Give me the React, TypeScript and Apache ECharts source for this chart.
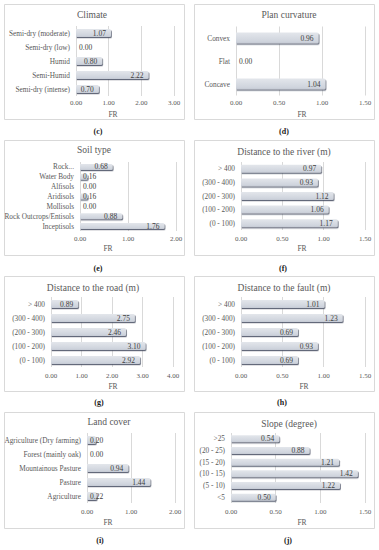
import React, { useEffect, useRef } from "react";
import * as echarts from "echarts";

// ---- data ----
const climateCats = ["Semi-dry (moderate)", "Semi-dry (low)", "Humid", "Semi-Humid", "Semi-dry (intense)"];
const climateVals = [1.07, 0.0, 0.8, 2.22, 0.7];
const planCats = ["Convex", "Flat", "Concave"];
const planVals = [0.96, 0.0, 1.04];
const soilCats = ["Rock...", "Water Body", "Alfisols", "Aridisols", "Mollisols", "Rock Outcrops/Entisols", "Inceptisols"];
const soilVals = [0.68, 0.16, 0.0, 0.16, 0.0, 0.88, 1.76];
const distCats = ["> 400", "(300 - 400)", "(200 - 300)", "(100 - 200)", "(0 - 100)"];
const riverVals = [0.97, 0.93, 1.12, 1.06, 1.17];
const roadVals = [0.89, 2.75, 2.46, 3.1, 2.92];
const faultVals = [1.01, 1.23, 0.69, 0.93, 0.69];
const landCats = ["Agriculture (Dry farming)", "Forest (mainly oak)", "Mountainous Pasture", "Pasture", "Agriculture"];
const landVals = [0.2, 0.0, 0.94, 1.44, 0.22];
const slopeCats = [">25", "(20 - 25)", "(15 - 20)", "(10 - 15)", "(5 - 10)", "<5"];
const slopeVals = [0.54, 0.88, 1.21, 1.42, 1.22, 0.5];

const titles = ["Climate", "Plan curvature", "Soil type", "Distance to the river (m)", "Distance to the road (m)", "Distance to the fault (m)", "Land cover", "Slope (degree)"];
const panelLetters = ["(c)", "(d)", "(e)", "(f)", "(g)", "(h)", "(i)", "(j)"];
const axisMax = [3, 1.5, 2, 1.5, 4, 1.5, 2, 1.5];
const axisInterval = [1, 0.5, 1, 0.5, 1, 0.5, 1, 0.5];
const axisName = "FR";

const panelCats = [climateCats, planCats, soilCats, distCats, distCats, distCats, landCats, slopeCats];
const panelVals = [climateVals, planVals, soilVals, riverVals, roadVals, faultVals, landVals, slopeVals];

// ---- layout ----
const layout = [
  { left: 76, width: 98, top: 26, height: 70, tx: 92, ty: 15, bw: 8, ly: 103, nx: 113, ny: 114 },
  { left: 236, width: 129, top: 26.5, height: 69, tx: 289, ty: 15, bw: 11, ly: 103, nx: 302, ny: 114 },
  { left: 80, width: 96, top: 162, height: 69, tx: 94, ty: 150, bw: 6, ly: 239, nx: 108, ny: 248 },
  { left: 241, width: 124, top: 162, height: 68, tx: 284, ty: 152, bw: 8, ly: 239, nx: 302, ny: 248 },
  { left: 51, width: 122, top: 297, height: 70, tx: 93, ty: 288, bw: 8, ly: 376, nx: 113, ny: 386 },
  { left: 241, width: 124, top: 297, height: 70, tx: 284, ty: 288, bw: 8, ly: 376, nx: 304, ny: 386 },
  { left: 87, width: 88, top: 433, height: 70, tx: 109, ty: 422, bw: 8, ly: 512, nx: 108, ny: 522 },
  { left: 231, width: 134, top: 433, height: 70, tx: 289, ty: 424, bw: 7, ly: 512, nx: 302, ny: 522 },
];
const boxes = [
  { x: 4.5, y: 4.5, w: 180, h: 115 },
  { x: 194.5, y: 4.5, w: 180, h: 115 },
  { x: 4.5, y: 140.5, w: 180, h: 115 },
  { x: 194.5, y: 140.5, w: 180, h: 115 },
  { x: 4.5, y: 276.5, w: 180, h: 115 },
  { x: 194.5, y: 276.5, w: 180, h: 115 },
  { x: 4.5, y: 412.5, w: 180, h: 116 },
  { x: 194.5, y: 412.5, w: 180, h: 116 },
];
const letterPos = [
  { x: 98, y: 131 }, { x: 284, y: 131 },
  { x: 98, y: 268 }, { x: 283, y: 268 },
  { x: 99, y: 402 }, { x: 282, y: 402 },
  { x: 100, y: 540 }, { x: 288, y: 540 },
];

const FONT = "Liberation Serif";

export default function App() {
  const ref = useRef<HTMLDivElement>(null);
  useEffect(() => {
    if (!ref.current) return;
    const chart = echarts.init(ref.current, undefined, { renderer: "svg" });
    const grid: any[] = [];
    const xAxis: any[] = [];
    const yAxis: any[] = [];
    const series: any[] = [];
    const graphic: any[] = [];

    boxes.forEach((b) => {
      graphic.push({
        type: "rect",
        z: -10,
        shape: { x: b.x, y: b.y, width: b.w, height: b.h },
        style: { fill: "#ffffff", stroke: "#d9d9d9", lineWidth: 1 },
      });
    });

    const txt = (x: number, y: number, text: string, size: number, color: string, weight = "normal") => ({
      type: "text",
      x,
      y,
      style: {
        text,
        fontFamily: FONT,
        fontSize: size,
        fontWeight: weight,
        fill: color,
        align: "center",
        verticalAlign: "middle",
        textAlign: "center",
        textVerticalAlign: "middle",
      },
    });

    layout.forEach((L, i) => {
      grid.push({ left: L.left, top: L.top, width: L.width, height: L.height, containLabel: false });
      const gb = L.top + L.height;
      xAxis.push({
        type: "value",
        gridIndex: i,
        min: 0,
        max: axisMax[i],
        interval: axisInterval[i],
        axisLine: { show: false },
        axisTick: { show: false },
        axisLabel: {
          fontFamily: FONT,
          fontSize: 7,
          color: "#595959",
          margin: L.ly - gb - 3.5,
          formatter: (v: number) => v.toFixed(2),
        },
        splitLine: { show: true, lineStyle: { color: "#d9d9d9", width: 1 } },
      });
      yAxis.push({
        type: "category",
        gridIndex: i,
        inverse: true,
        data: panelCats[i],
        axisLine: { show: false },
        axisTick: { show: false },
        axisLabel: { fontFamily: FONT, fontSize: 7.3, color: "#595959", margin: 6 },
      });
      const ppu = L.width / axisMax[i];
      series.push({
        type: "bar",
        xAxisIndex: i,
        yAxisIndex: i,
        barWidth: L.bw,
        data: panelVals[i].map((v) => ({
          value: v,
          label: { position: v * ppu < 20 ? "insideLeft" : "insideRight", distance: v * ppu < 20 ? 3 : 5 },
        })),
        itemStyle: {
          color: {
            type: "linear", x: 0, y: 0, x2: 0, y2: 1,
            colorStops: [
              { offset: 0, color: "#e3e6eb" },
              { offset: 0.8, color: "#cfd4dd" },
              { offset: 1, color: "#c4c9d3" },
            ],
          },
          borderRadius: [0, 1.5, 1.5, 0],
          shadowColor: "rgba(70,80,100,0.85)",
          shadowOffsetY: 1.2,
          shadowOffsetX: 0.8,
          shadowBlur: 0.5,
        },
        label: {
          show: true,
          fontFamily: FONT,
          fontSize: 7.5,
          color: "#404040",
          formatter: (p: any) => Number(p.value).toFixed(2),
        },
      });
      graphic.push(txt(L.tx, L.ty, titles[i], 9.5, "#595959"));
      graphic.push(txt(L.nx, L.ny, axisName, 7.5, "#595959"));
      graphic.push(txt(letterPos[i].x, letterPos[i].y, panelLetters[i], 8, "#1a1a1a", "bold"));
    });

    chart.setOption({
      animation: false,
      backgroundColor: "#ffffff",
      grid,
      xAxis,
      yAxis,
      series,
      graphic,
    });
    return () => chart.dispose();
  }, []);
  return (
    <div
      ref={ref}
      style={{ position: "absolute", left: 0, top: 0, width: 379, height: 550 }}
    />
  );
}
